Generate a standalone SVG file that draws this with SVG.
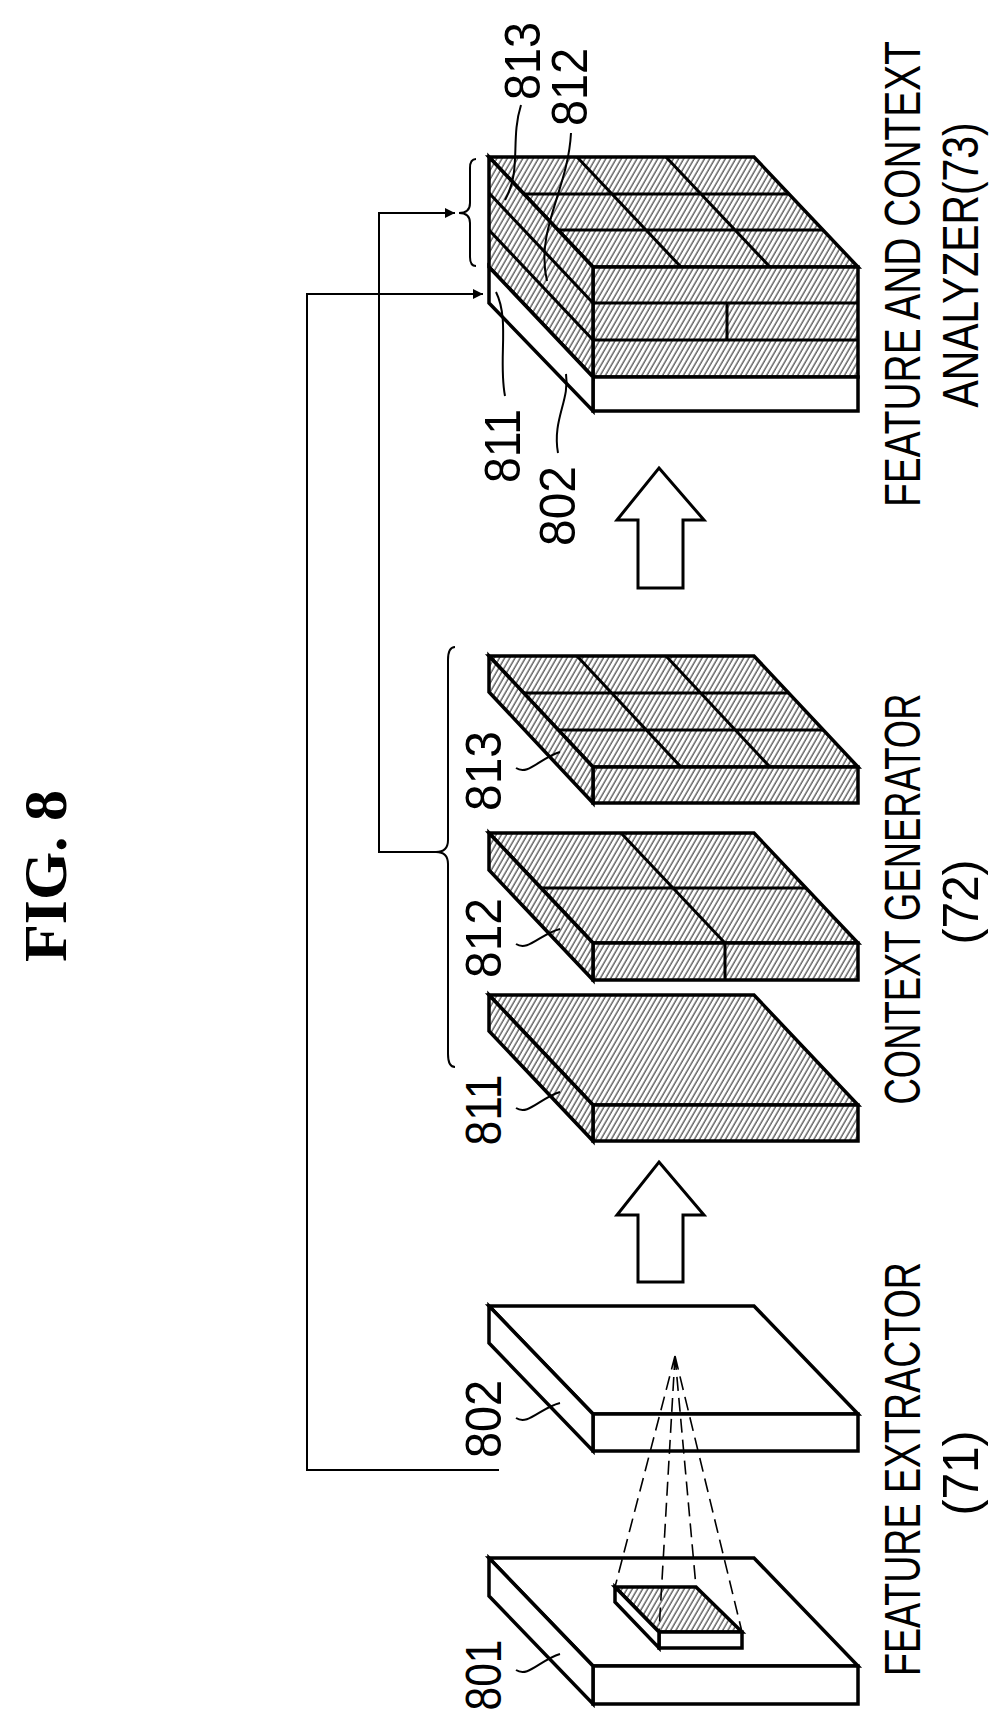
<svg xmlns="http://www.w3.org/2000/svg" width="1003" height="1731" viewBox="0 0 1003 1731">
<style>
.o{stroke:#000;stroke-width:3.5;stroke-linejoin:miter;fill:#fff}
.hh{stroke:#000;stroke-width:3.5;fill:url(#h)}
.g{stroke:#000;stroke-width:3;fill:none}
.c{stroke:#000;stroke-width:2;fill:none}
.d{stroke:#000;stroke-width:1.6;fill:none;stroke-dasharray:14 7}
.t{font-family:"Liberation Sans",Arial,sans-serif;font-size:50px;fill:#000}
.ti{font-family:"Liberation Serif","Times New Roman",serif;font-weight:bold;font-size:62px;fill:#000}
</style>
<defs>
<pattern id="h" width="4.5" height="4.5" patternUnits="userSpaceOnUse" patternTransform="rotate(30)">
<rect width="4.5" height="4.5" fill="#fff"/>
<line x1="1" y1="0" x2="1" y2="4.5" stroke="#000" stroke-width="0.9"/>
</pattern>
<marker id="ar" viewBox="0 0 10 10" refX="10" refY="5" markerWidth="10" markerHeight="10" markerUnits="userSpaceOnUse" orient="auto"><path d="M0,0 L10,5 L0,10 Z" fill="#000"/></marker>
</defs>
<rect width="1003" height="1731" fill="#fff"/>
<text class="ti" text-anchor="middle" transform="translate(66,876) rotate(-90)">FIG. 8</text>

<g id="connectors">
<path class="c" d="M499,1470 H307 V294 H483" marker-end="url(#ar)"/>
<path class="c" d="M437,852 H379 V213 H455" marker-end="url(#ar)"/>
<path class="c" d="M455,647 Q448,647 448,660 L448,840 Q448,852 436,852 Q448,852 448,864 L448,1054 Q448,1067 455,1067"/>
<path class="c" d="M476,159 Q470,159 470,168 L470,203 Q470,213 459,213 Q470,213 470,223 L470,257 Q470,266 476,266"/>
<polygon class="g" fill="#fff" points="659,468 704,520 683,520 683,588 638,588 638,520 617,520"/>
<polygon class="g" fill="#fff" points="659,1162 704,1215 683,1215 683,1282 638,1282 638,1215 617,1215"/>
</g>

<g id="n801">
<path class="o" d="M489,1558 L754,1558 L858,1666 L593,1666 Z"/>
<rect class="o" x="593" y="1666" width="265" height="38"/>
<path class="o" d="M489,1558 L593,1666 L593,1704 L489,1596 Z"/>
<path class="hh" d="M615,1587 L696,1587 L742,1632 L659,1632 Z"/>
<rect class="o" x="659" y="1632" width="83" height="16"/>
<path class="o" d="M615,1587 L659,1632 L659,1648 L615,1602 Z"/>
<text class="t" textLength="71" lengthAdjust="spacingAndGlyphs" text-anchor="middle" transform="translate(501,1675) rotate(-90)">801</text>
<path class="c" d="M516,1670 C528,1678 540,1660 560,1654"/>
</g>

<g id="n802">
<path class="o" d="M489,1306 L754,1306 L858,1414 L593,1414 Z"/>
<rect class="o" x="593" y="1414" width="265" height="37"/>
<path class="o" d="M489,1306 L593,1414 L593,1451 L489,1343 Z"/>
<text class="t" textLength="78" lengthAdjust="spacingAndGlyphs" text-anchor="middle" transform="translate(501,1419) rotate(-90)">802</text>
<path class="c" d="M516,1418 C528,1426 540,1408 560,1403"/>
</g>

<g id="dashes">
<path class="d" d="M675,1356 L615,1587 M675,1356 L659,1632 M675,1356 L696,1587 M675,1356 L742,1632"/>
</g>

<g id="n811">
<path class="hh" d="M489,995 L754,995 L858,1105 L593,1105 Z"/>
<rect class="hh" x="593" y="1105" width="265" height="36"/>
<path class="hh" d="M489,995 L593,1105 L593,1141 L489,1031 Z"/>
<text class="t" textLength="71" lengthAdjust="spacingAndGlyphs" text-anchor="middle" transform="translate(501,1110) rotate(-90)">811</text>
<path class="c" d="M516,1108 C528,1116 540,1098 560,1092"/>
</g>

<g id="n812">
<path class="hh" d="M489,833 L754,833 L858,943 L593,943 Z"/>
<rect class="hh" x="593" y="943" width="265" height="37"/>
<path class="hh" d="M489,833 L593,943 L593,980 L489,870 Z"/>
<path class="g" d="M621,833 L725,943 L725,980 M541,888 L806,888"/>
<text class="t" textLength="80" lengthAdjust="spacingAndGlyphs" text-anchor="middle" transform="translate(501,938) rotate(-90)">812</text>
<path class="c" d="M516,944 C528,952 540,934 560,929"/>
</g>

<g id="n813">
<path class="hh" d="M489,656 L754,656 L858,767 L593,767 Z"/>
<rect class="hh" x="593" y="767" width="265" height="36"/>
<path class="hh" d="M489,656 L593,767 L593,803 L489,692 Z"/>
<path class="g" d="M577,656 L681,767 M666,656 L770,767 M524,693 L789,693 M558,730 L823,730"/>
<text class="t" textLength="80" lengthAdjust="spacingAndGlyphs" text-anchor="middle" transform="translate(501,771) rotate(-90)">813</text>
<path class="c" d="M516,768 C528,776 540,758 560,752"/>
</g>

<g id="n73">
<path class="hh" d="M489,157 L754,157 L858,267 L593,267 Z"/>
<rect class="hh" x="593" y="267" width="265" height="110"/>
<rect class="o" x="593" y="377" width="265" height="34"/>
<path class="hh" d="M489,157 L593,267 L593,377 L489,267 Z"/>
<path class="o" d="M489,267 L593,377 L593,411 L489,303 Z"/>
<path class="g" d="M577,157 L681,267 M666,157 L770,267 M524,194 L789,194 M558,230 L823,230"/>
<path class="g" d="M489,193 L593,303 M489,230 L593,340 M593,303 L858,303 M593,340 L858,340 M727,303 L727,340"/>
<text class="t" textLength="78" lengthAdjust="spacingAndGlyphs" text-anchor="middle" transform="translate(540,61) rotate(-90)">813</text>
<text class="t" textLength="78" lengthAdjust="spacingAndGlyphs" text-anchor="middle" transform="translate(587,87) rotate(-90)">812</text>
<text class="t" textLength="74" lengthAdjust="spacingAndGlyphs" text-anchor="middle" transform="translate(520,446) rotate(-90)">811</text>
<text class="t" textLength="80" lengthAdjust="spacingAndGlyphs" text-anchor="middle" transform="translate(575,506) rotate(-90)">802</text>
<path class="c" d="M521,105 C510,140 522,170 505,200"/>
<path class="c" d="M571,133 C568,190 535,230 547,281"/>
<path class="c" d="M505,396 C498,360 510,320 496,292"/>
<path class="c" d="M558,453 C552,420 570,400 566,374"/>
</g>

<g id="labels">
<text class="t" textLength="466" lengthAdjust="spacingAndGlyphs" text-anchor="middle" transform="translate(920,274) rotate(-90)">FEATURE AND CONTEXT</text>
<text class="t" textLength="285" lengthAdjust="spacingAndGlyphs" text-anchor="middle" transform="translate(978,265) rotate(-90)">ANALYZER(73)</text>
<text class="t" textLength="411" lengthAdjust="spacingAndGlyphs" text-anchor="middle" transform="translate(920,899) rotate(-90)">CONTEXT GENERATOR</text>
<text class="t" textLength="85" lengthAdjust="spacingAndGlyphs" text-anchor="middle" transform="translate(978,902) rotate(-90)">(72)</text>
<text class="t" textLength="414" lengthAdjust="spacingAndGlyphs" text-anchor="middle" transform="translate(920,1469) rotate(-90)">FEATURE EXTRACTOR</text>
<text class="t" textLength="85" lengthAdjust="spacingAndGlyphs" text-anchor="middle" transform="translate(978,1473) rotate(-90)">(71)</text>
</g>
</svg>
